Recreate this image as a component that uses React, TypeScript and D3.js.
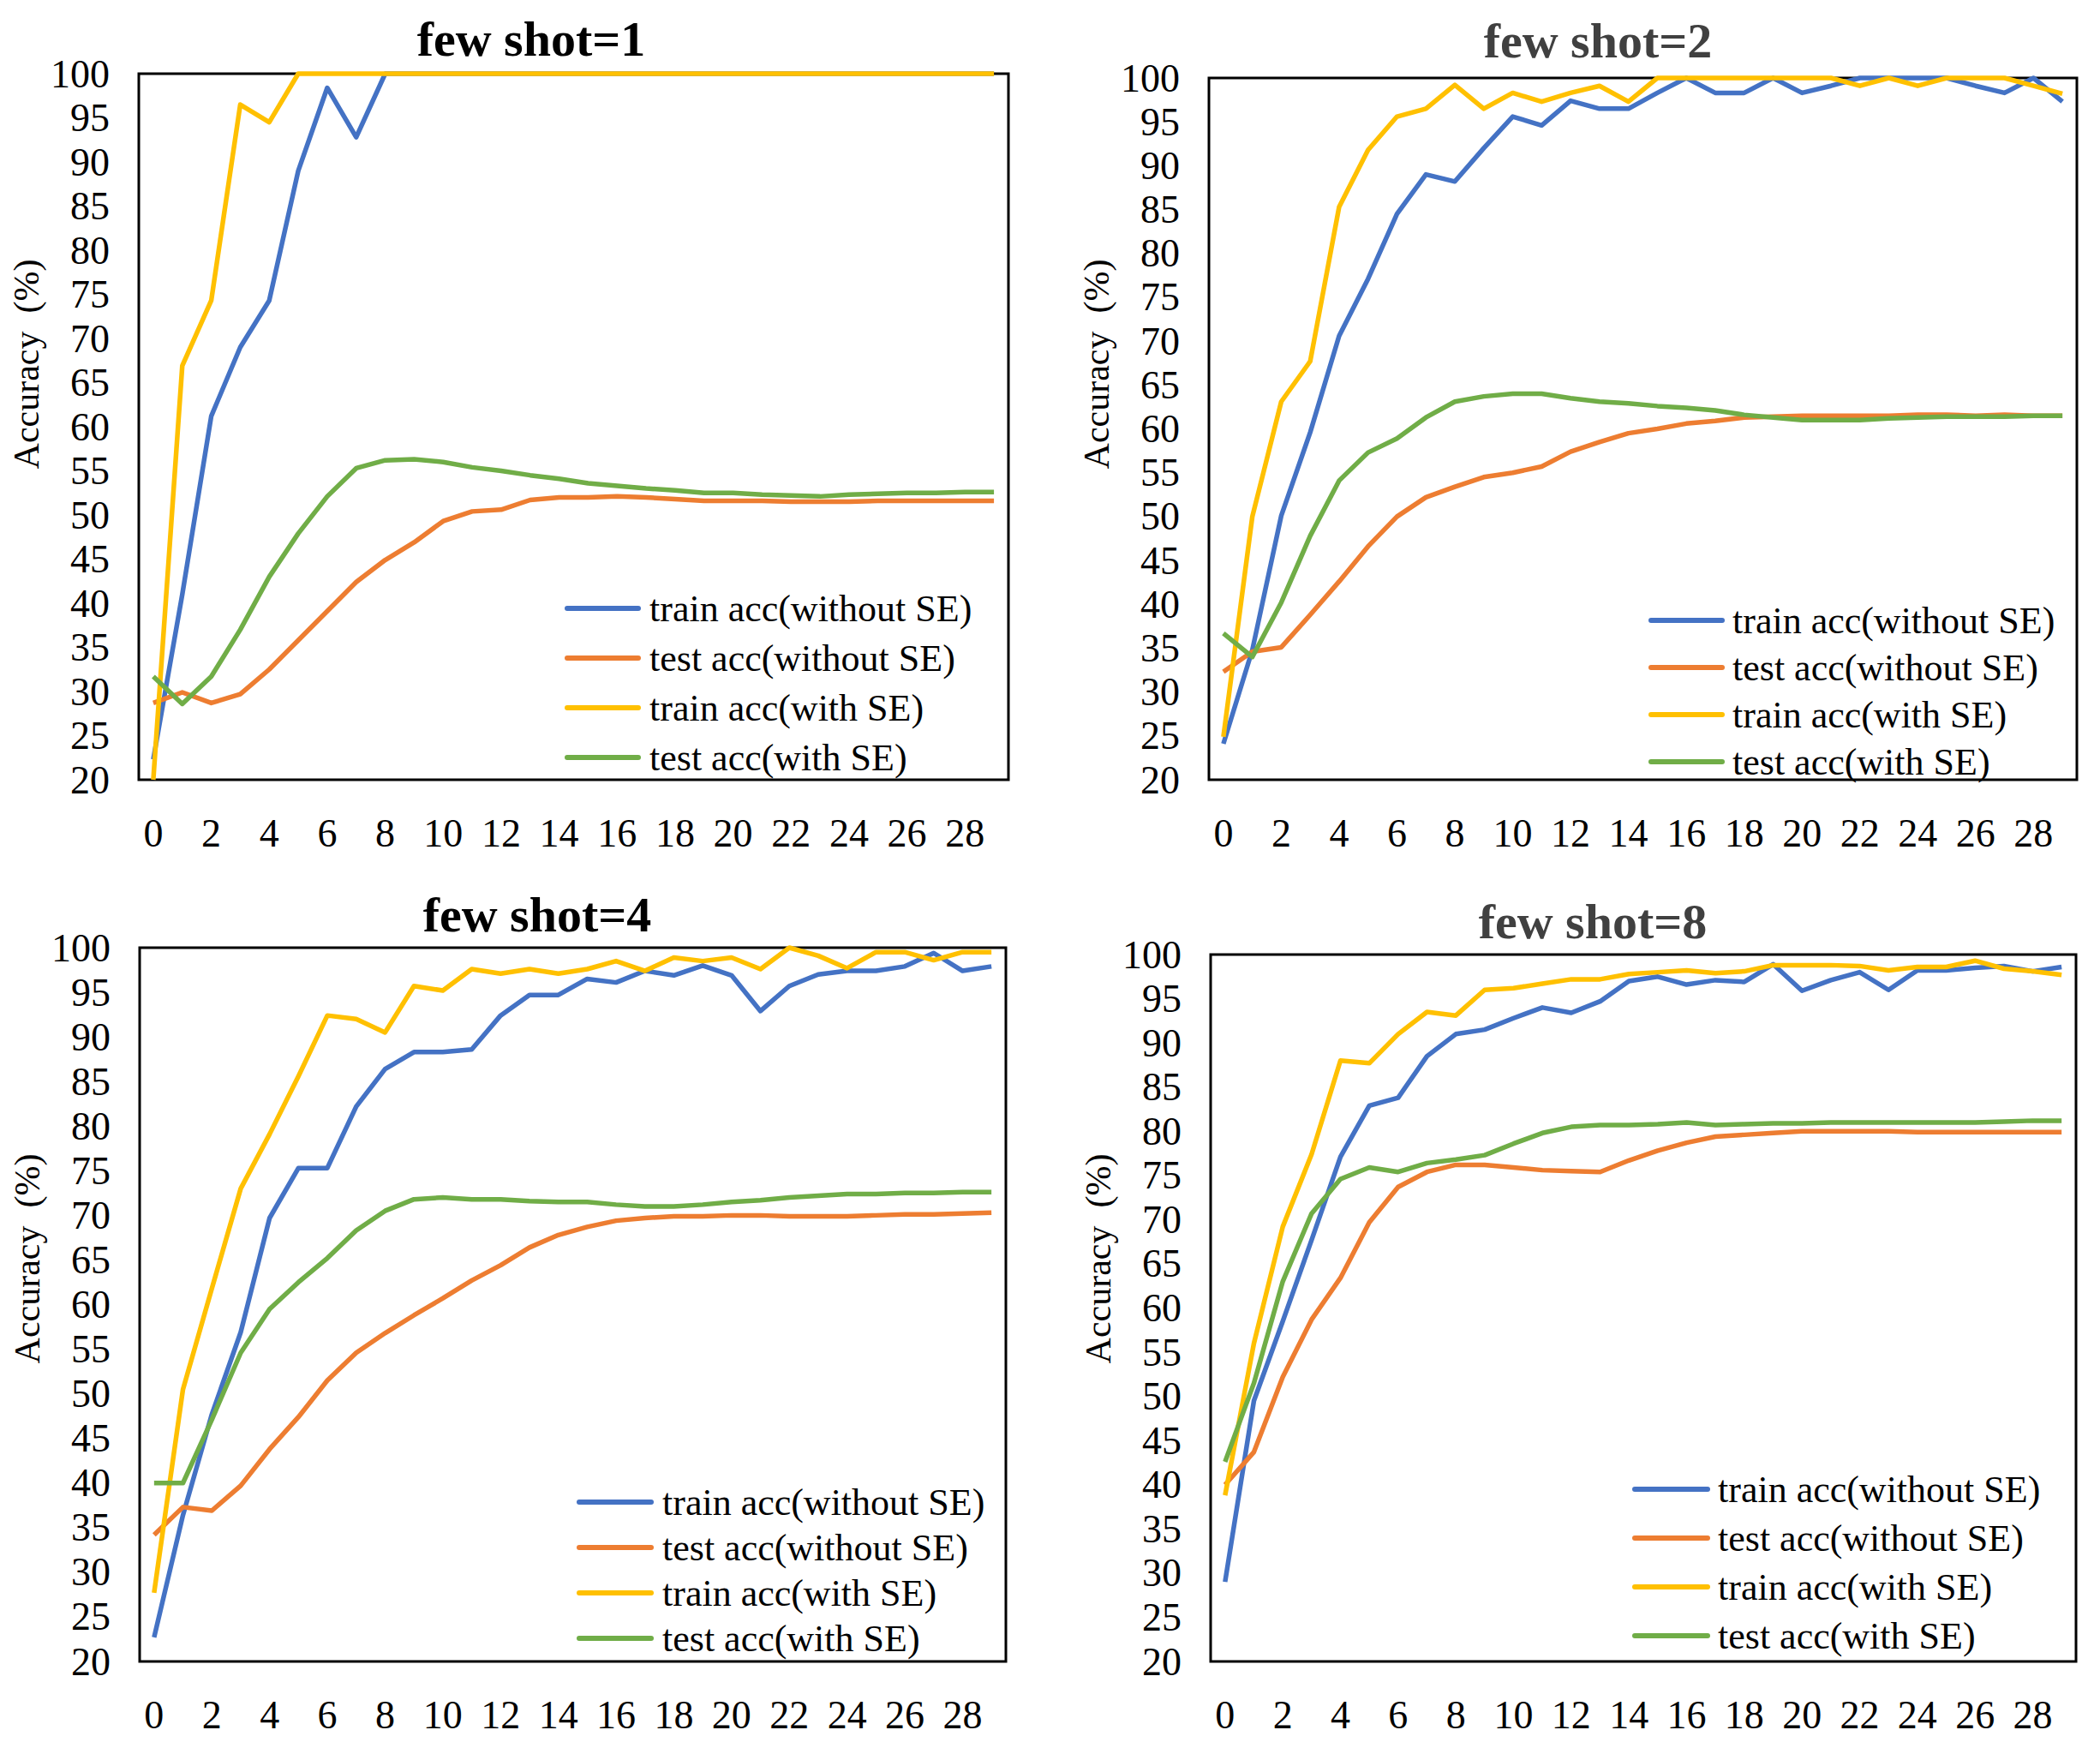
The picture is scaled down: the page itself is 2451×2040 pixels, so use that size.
import * as d3 from "d3";

// epochs on the x axis
const epochs = [0, 1, 2, 3, 4, 5, 6, 7, 8, 9, 10, 11, 12, 13, 14, 15, 16, 17, 18, 19, 20, 21, 22, 23, 24, 25, 26, 27, 28, 29];
const xTicks = [0, 2, 4, 6, 8, 10, 12, 14, 16, 18, 20, 22, 24, 26, 28];
const yTicks = [20, 25, 30, 35, 40, 45, 50, 55, 60, 65, 70, 75, 80, 85, 90, 95, 100];

const seriesNames = ["train acc(without SE)", "test acc(without SE)", "train acc(with SE)", "test acc(with SE)"];
const seriesColors = ["#4472C4", "#ED7D31", "#FFC000", "#70AD47"];

const panelTitles = ["few shot=1", "few shot=2", "few shot=4", "few shot=8"];

// few shot = 1
const shot1TrainNoSE = [22.3, 41, 61.2, 69, 74.3, 89, 98.4, 92.8, 100, 100, 100, 100, 100, 100, 100, 100, 100, 100, 100, 100, 100, 100, 100, 100, 100, 100, 100, 100, 100, 100];
const shot1TestNoSE = [28.7, 29.9, 28.7, 29.7, 32.5, 35.8, 39.1, 42.4, 44.9, 46.9, 49.3, 50.4, 50.6, 51.7, 52, 52, 52.1, 52, 51.8, 51.6, 51.6, 51.6, 51.5, 51.5, 51.5, 51.6, 51.6, 51.6, 51.6, 51.6];
const shot1TrainSE = [20, 66.9, 74.3, 96.5, 94.5, 100, 100, 100, 100, 100, 100, 100, 100, 100, 100, 100, 100, 100, 100, 100, 100, 100, 100, 100, 100, 100, 100, 100, 100, 100];
const shot1TestSE = [31.7, 28.6, 31.7, 37, 43, 47.9, 52.1, 55.3, 56.2, 56.3, 56.0, 55.4, 55.0, 54.5, 54.1, 53.6, 53.3, 53.0, 52.8, 52.5, 52.5, 52.3, 52.2, 52.1, 52.3, 52.4, 52.5, 52.5, 52.6, 52.6];

// few shot = 2
const shot2TrainNoSE = [24.1, 34.8, 50.1, 59.6, 70.6, 77.1, 84.5, 89, 88.2, 92, 95.6, 94.6, 97.4, 96.5, 96.5, 98.3, 100, 98.3, 98.3, 100, 98.3, 99.1, 100, 100, 100, 100, 99.1, 98.3, 100, 97.3];
const shot2TestNoSE = [32.3, 34.6, 35.1, 38.8, 42.6, 46.6, 50, 52.2, 53.4, 54.5, 55, 55.7, 57.4, 58.5, 59.5, 60, 60.6, 60.9, 61.3, 61.4, 61.5, 61.5, 61.5, 61.5, 61.6, 61.6, 61.5, 61.6, 61.5, 61.5];
const shot2TrainSE = [24.9, 50, 63.1, 67.7, 85.3, 91.8, 95.6, 96.5, 99.2, 96.5, 98.3, 97.3, 98.3, 99.1, 97.3, 100, 100, 100, 100, 100, 100, 100, 99.1, 100, 99.1, 100, 100, 100, 99.1, 98.2];
const shot2TestSE = [36.7, 34, 40.2, 47.8, 54.1, 57.3, 58.9, 61.3, 63.1, 63.7, 64, 64, 63.5, 63.1, 62.9, 62.6, 62.4, 62.1, 61.6, 61.3, 61.0, 61.0, 61.0, 61.2, 61.3, 61.4, 61.4, 61.4, 61.5, 61.5];

// few shot = 4
const shot4TrainNoSE = [22.7, 36.4, 47.7, 56.9, 69.7, 75.3, 75.3, 82.2, 86.4, 88.3, 88.3, 88.6, 92.4, 94.7, 94.7, 96.5, 96.1, 97.4, 96.9, 98, 96.9, 92.9, 95.7, 97, 97.4, 97.4, 97.9, 99.4, 97.4, 97.9];
const shot4TestNoSE = [34.2, 37.3, 36.9, 39.7, 43.8, 47.4, 51.5, 54.6, 56.8, 58.8, 60.7, 62.7, 64.4, 66.4, 67.8, 68.7, 69.4, 69.7, 69.9, 69.9, 70, 70, 69.9, 69.9, 69.9, 70, 70.1, 70.1, 70.2, 70.3];
const shot4TrainSE = [27.7, 50.5, 61.8, 73, 79.1, 85.6, 92.4, 92, 90.5, 95.7, 95.2, 97.6, 97.1, 97.6, 97.1, 97.6, 98.5, 97.4, 98.9, 98.5, 98.9, 97.6, 100, 99.1, 97.7, 99.5, 99.5, 98.6, 99.5, 99.5];
const shot4TestSE = [40, 40, 47.1, 54.6, 59.5, 62.5, 65.2, 68.3, 70.5, 71.8, 72, 71.8, 71.8, 71.6, 71.5, 71.5, 71.2, 71.0, 71.0, 71.2, 71.5, 71.7, 72.0, 72.2, 72.4, 72.4, 72.5, 72.5, 72.6, 72.6];

// few shot = 8
const shot8TrainNoSE = [29, 49.5, 58.5, 67.7, 77.1, 82.9, 83.8, 88.5, 91, 91.5, 92.8, 94, 93.4, 94.7, 97, 97.5, 96.6, 97.1, 96.9, 98.9, 95.9, 97.1, 98, 96, 98.2, 98.2, 98.5, 98.7, 98.1, 98.6];
const shot8TestNoSE = [40, 43.7, 52.2, 58.7, 63.4, 69.7, 73.7, 75.4, 76.2, 76.2, 75.9, 75.6, 75.5, 75.4, 76.7, 77.8, 78.7, 79.4, 79.6, 79.8, 80, 80, 80, 80, 79.9, 79.9, 79.9, 79.9, 79.9, 79.9];
const shot8TrainSE = [38.8, 56, 69.2, 77.4, 88, 87.7, 91, 93.5, 93.1, 96, 96.2, 96.7, 97.2, 97.2, 97.8, 98, 98.2, 97.9, 98.1, 98.8, 98.8, 98.8, 98.7, 98.2, 98.6, 98.6, 99.3, 98.4, 98.1, 97.7];
const shot8TestSE = [42.6, 51.5, 63, 70.7, 74.6, 75.9, 75.4, 76.4, 76.8, 77.3, 78.6, 79.8, 80.5, 80.7, 80.7, 80.8, 81, 80.7, 80.8, 80.9, 80.9, 81.0, 81.0, 81.0, 81.0, 81.0, 81.0, 81.1, 81.2, 81.2];

const panelSeries = [
  [shot1TrainNoSE, shot1TestNoSE, shot1TrainSE, shot1TestSE],
  [shot2TrainNoSE, shot2TestNoSE, shot2TrainSE, shot2TestSE],
  [shot4TrainNoSE, shot4TestNoSE, shot4TrainSE, shot4TestSE],
  [shot8TrainNoSE, shot8TestNoSE, shot8TrainSE, shot8TestSE],
];

// page layout of each panel (pixels)
const layouts = [
  { left: 162, right: 1177, top: 86, bottom: 910, titleX: 620, titleY: 65, titleColor: "#000", lx1: 662, lx2: 745, ltx: 758, ly: 710, lstep: 58, labelY: 425 },
  { left: 1411, right: 2424, top: 91, bottom: 910, titleX: 1865, titleY: 67, titleColor: "#404040", lx1: 1927, lx2: 2010, ltx: 2022, ly: 724, lstep: 55, labelY: 425 },
  { left: 163, right: 1174, top: 1106, bottom: 1939, titleX: 627, titleY: 1087, titleColor: "#000", lx1: 676, lx2: 760, ltx: 773, ly: 1753, lstep: 53, labelY: 1469 },
  { left: 1413, right: 2423, top: 1114, bottom: 1939, titleX: 1859, titleY: 1095, titleColor: "#404040", lx1: 1908, lx2: 1993, ltx: 2005, ly: 1738, lstep: 57, labelY: 1469 },
];

const font = "'Times New Roman', 'Liberation Serif', serif";

function Panel({ idx }: { idx: number }) {
  const L = layouts[idx];
  const x = d3.scaleLinear().domain([-0.5, 29.5]).range([L.left, L.right]);
  const y = d3.scaleLinear().domain([20, 100]).range([L.bottom, L.top]);
  const line = d3
    .line<number>()
    .x((_, i) => x(epochs[i]))
    .y((d) => y(d));

  return (
    <g>
      <text x={L.titleX} y={L.titleY} textAnchor="middle" fontFamily={font} fontWeight="bold" fontSize={58} fill={L.titleColor}>
        {panelTitles[idx]}
      </text>
      <rect x={L.left} y={L.top} width={L.right - L.left} height={L.bottom - L.top} fill="#fff" stroke="#000" strokeWidth={3} />
      {yTicks.map((t) => (
        <text key={t} x={L.left - 34} y={y(t)} textAnchor="end" dominantBaseline="central" fontFamily={font} fontSize={46} fill="#000">
          {t}
        </text>
      ))}
      {xTicks.map((t) => (
        <text key={t} x={x(t)} y={L.bottom + 78} textAnchor="middle" fontFamily={font} fontSize={46} fill="#000">
          {t}
        </text>
      ))}
      <text transform={`translate(${L.left - 117},${L.labelY}) rotate(-90)`} textAnchor="middle" fontFamily={font} fontSize={42} fill="#000" style={{ whiteSpace: "pre" }}>
        {"Accuracy\u00a0\u00a0(%)"}
      </text>
      {panelSeries[idx].map((s, i) => (
        <path key={i} d={line(s) || ""} fill="none" stroke={seriesColors[i]} strokeWidth={5.5} strokeLinejoin="round" />
      ))}
      {seriesNames.map((name, i) => (
        <g key={name}>
          <line x1={L.lx1} x2={L.lx2} y1={L.ly + i * L.lstep} y2={L.ly + i * L.lstep} stroke={seriesColors[i]} strokeWidth={6} strokeLinecap="round" />
          <text x={L.ltx} y={L.ly + i * L.lstep} dominantBaseline="central" fontFamily={font} fontSize={44} fill="#000">
            {name}
          </text>
        </g>
      ))}
    </g>
  );
}

export default function App() {
  return (
    <svg width={2451} height={2040} style={{ position: "absolute", left: 0, top: 0, background: "#fff" }}>
      <rect width={2451} height={2040} fill="#fff" />
      {[0, 1, 2, 3].map((i) => (
        <Panel key={i} idx={i} />
      ))}
    </svg>
  );
}
